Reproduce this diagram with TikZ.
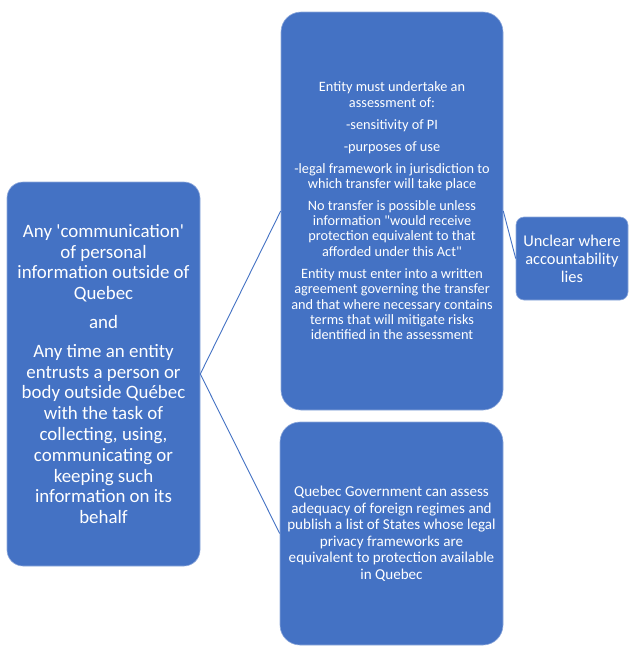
\documentclass[tikz,border=0pt]{standalone}
\usepackage{fontspec}
\setmainfont{Carlito}[Ligatures=TeXOff]
\definecolor{boxblue}{HTML}{4472C4}
\definecolor{edgeblue}{HTML}{8FAADC}
\definecolor{lineblue}{HTML}{4472C4}
\begin{document}
\begin{tikzpicture}[x=1pt,y=-1pt,
  box/.style={rounded corners=16pt, fill=boxblue, draw=edgeblue, line width=0.6pt,
    text=white, align=center, inner sep=0pt},
  conn/.style={draw=lineblue, line width=0.9pt}]
\useasboundingbox (0,0) rectangle (634,654);
\fill[white] (0,0) rectangle (634,654);
\node[box, minimum width=193pt, minimum height=384pt, font=\fontsize{18.9}{20.8}\selectfont] (src) at (103.5,374)
 {Any 'communication'\\ of personal\\ information outside of\\ Quebec\\[8pt]
  and\\[8pt]
  Any time an entity\\ entrusts a person or\\ body outside Québec\\ with the task of\\ collecting, using,\\ communicating or\\ keeping such\\ information on its\\ behalf};
\node[box, rounded corners=20pt, minimum width=222pt, minimum height=398pt, font=\fontsize{14.3}{15.4}\selectfont] (req) at (392,211)
 {Entity must undertake an\\ assessment of:\\[6.6pt]
  -sensitivity of PI\\[6.6pt]
  -purposes of use\\[6.6pt]
  -legal framework in jurisdiction to\\ which transfer will take place\\[6pt]
  No transfer is possible unless\\ information "would receive\\ protection equivalent to that\\ afforded under this Act"\\[6.6pt]
  Entity must enter into a written\\ agreement governing the transfer\\ and that where necessary contains\\ terms that will mitigate risks\\ identified in the assessment};
\node[box, rounded corners=8pt, minimum width=112pt, minimum height=83pt, font=\fontsize{16.4}{18}\selectfont] (unc) at (572,258.5)
 {Unclear where\\ accountability\\ lies};
\node[box, rounded corners=20pt, minimum width=223pt, minimum height=223pt, font=\fontsize{15.1}{16.5}\selectfont] (gov) at (391.5,533.5)
 {Quebec Government can assess\\ adequacy of foreign regimes and\\ publish a list of States whose legal\\ privacy frameworks are\\ equivalent to protection available\\ in Quebec};
\draw[conn] (src.east) -- (req.west);
\draw[conn] (src.east) -- (gov.west);
\draw[conn] (req.east) -- (unc.west);
\end{tikzpicture}
\end{document}
